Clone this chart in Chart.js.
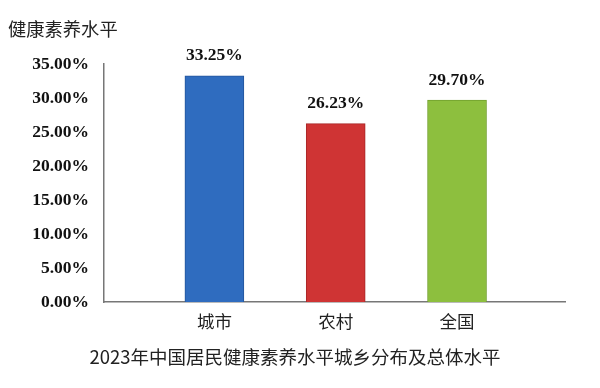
<!DOCTYPE html>
<html>
<head>
<meta charset="utf-8">
<script src="https://cdn.jsdelivr.net/npm/chart.js@4"></script>
<style>
  body { margin: 0; background: #fff; }
  #wrap { width: 600px; height: 388px; }
</style>
</head>
<body>
<div id="wrap"><canvas id="myChart" width="600" height="388"></canvas></div>
<script>
const categories = ['城市', '农村', '全国'];
const values = [33.25, 26.23, 29.70];
const yTicks = [0, 5, 10, 15, 20, 25, 30, 35];
const titleText = '健康素养水平';
const captionText = '2023年中国居民健康素养水平城乡分布及总体水平';

const fills = ['#2f6cbf', '#cf3434', '#8dbf3e'];
const edges = ['#24559a', '#a82727', '#72a02e'];
const serifBold = { family: '"Liberation Serif", "DejaVu Serif", serif', size: 17.5, weight: 'bold' };
const sans = '"Noto Sans CJK SC", "Noto Sans", sans-serif';

const textPlugin = {
    id: 'texts',
    afterDraw(chart) {
        const ctx = chart.ctx;
        ctx.save();
        // value labels above bars
        ctx.font = `bold 17.5px ${serifBold.family}`;
        ctx.fillStyle = '#111';
        ctx.textAlign = 'center';
        ctx.textBaseline = 'middle';
        chart.getDatasetMeta(0).data.forEach((bar, i) => {
            ctx.fillText(values[i].toFixed(2) + '%', bar.x, bar.y - 20);
        });
        // axis title and caption
        ctx.fillStyle = '#222';
        ctx.font = `18.3px ${sans}`;
        ctx.textAlign = 'left';
        ctx.fillText(titleText, 8, 29);
        ctx.font = `18.5px ${sans}`;
        ctx.textAlign = 'center';
        ctx.fillText(captionText, 295, 357);
        ctx.restore();
    }
};

const ctx = document.getElementById('myChart').getContext('2d');
new Chart(ctx, {
    type: 'bar',
    data: {
        datasets: [{
            data: values.map((v, i) => ({ x: i, y: v })),
            backgroundColor: fills,
            borderColor: edges,
            borderWidth: 1,
            barThickness: 59
        }]
    },
    options: {
        responsive: false,
        animation: false,
        layout: { padding: { left: 0, right: 35, top: 64, bottom: 47 } },
        plugins: {
            legend: { display: false },
            tooltip: { enabled: false }
        },
        scales: {
            x: {
                type: 'linear',
                offset: false,
                bounds: 'data',
                min: -0.91,
                max: 2.89,
                grid: { display: false, drawTicks: false },
                border: { display: true, color: '#777', width: 1.5 },
                afterBuildTicks: scale => {
                    scale.ticks = categories.map((c, i) => ({ value: i }));
                },
                ticks: {
                    padding: 9,
                    color: '#222',
                    font: { family: sans, size: 17.5 },
                    callback: v => categories[v]
                }
            },
            y: {
                min: 0,
                max: 35,
                afterBuildTicks: scale => {
                    scale.ticks = yTicks.map(v => ({ value: v }));
                },
                afterFit: scale => { scale.width = 104; },
                grid: { display: false, drawTicks: false },
                border: { display: true, color: '#777', width: 1.5 },
                ticks: {
                    padding: 15,
                    color: '#111',
                    font: serifBold,
                    callback: v => v.toFixed(2) + '%'
                }
            }
        }
    },
    plugins: [textPlugin]
});
</script>
</body>
</html>
